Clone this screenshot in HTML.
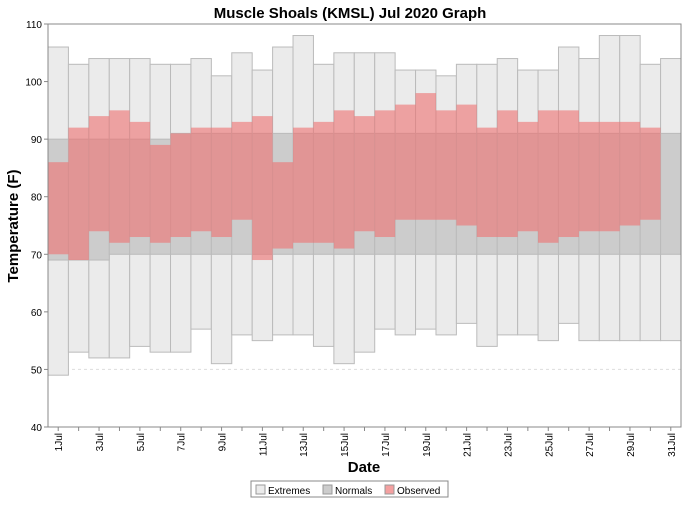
<!DOCTYPE html>
<html><head><meta charset="utf-8"><style>
body{margin:0;background:#fff;font-family:"Liberation Sans",sans-serif}
</style></head><body>
<svg id="chart" width="700" height="500" xmlns="http://www.w3.org/2000/svg" font-family="Liberation Sans, sans-serif">
<text x="350" y="18" text-anchor="middle" font-size="15" font-weight="bold">Muscle Shoals (KMSL) Jul 2020 Graph</text>
<g id="plot"></g>
<text transform="translate(18,226) rotate(-90)" text-anchor="middle" font-size="15" font-weight="bold">Temperature (F)</text>
<text x="364" y="472" text-anchor="middle" font-size="15" font-weight="bold">Date</text>
<g>
<rect x="251" y="481" width="197" height="16" fill="#fff" stroke="#888"/>
<rect x="256" y="485" width="9" height="9" fill="#ebebeb" stroke="#999"/>
<text x="268" y="494" font-size="10">Extremes</text>
<rect x="323" y="485" width="9" height="9" fill="#cccccc" stroke="#999"/>
<text x="335" y="494" font-size="10">Normals</text>
<rect x="385" y="485" width="9" height="9" fill="#f4a0a0" stroke="#999"/>
<text x="397" y="494" font-size="10">Observed</text>
</g>
</svg>
<script>
const days=[1,2,3,4,5,6,7,8,9,10,11,12,13,14,15,16,17,18,19,20,21,22,23,24,25,26,27,28,29,30,31];
const extHigh=[106,103,104,104,104,103,103,104,101,105,102,106,108,103,105,105,105,102,102,101,103,103,104,102,102,106,104,108,108,103,104];
const extLow=[49,53,52,52,54,53,53,57,51,56,55,56,56,54,51,53,57,56,57,56,58,54,56,56,55,58,55,55,55,55,55];
const normHigh=[90,90,90,90,90,90,91,91,91,91,91,91,91,91,91,91,91,91,91,91,91,91,91,91,91,91,91,91,91,91,91];
const normLow=[69,69,69,70,70,70,70,70,70,70,70,70,70,70,70,70,70,70,70,70,70,70,70,70,70,70,70,70,70,70,70];
const obsHigh=[86,92,94,95,93,89,91,92,92,93,94,86,92,93,95,94,95,96,98,95,96,92,95,93,95,95,93,93,93,92,null];
const obsLow=[70,69,74,72,73,72,73,74,73,76,69,71,72,72,71,74,73,76,76,76,75,73,73,74,72,73,74,74,75,76,null];
const yTicks=[40,50,60,70,80,90,100,110];
const X0=48,X1=681,Y0=24,Y1=427,YMIN=40,YMAX=110;
const bw=(X1-X0)/days.length;
const xs=i=>X0+i*bw;
const ys=v=>Y1-(v-YMIN)/(YMAX-YMIN)*(Y1-Y0);
const NS="http://www.w3.org/2000/svg";
const g=document.getElementById('plot');
function mk(t,a,p){const e=document.createElementNS(NS,t);for(const k in a)e.setAttribute(k,a[k]);(p||g).appendChild(e);return e;}
const bg=mk('rect',{x:X0,y:Y0,width:X1-X0,height:Y1-Y0,fill:'#fff'});


yTicks.forEach(v=>{
 const l=mk('line',{x1:X0,x2:X1,y1:ys(v),y2:ys(v),stroke:'#ddd','stroke-dasharray':'3,3'});
 
 
});
function bar(i,hi,lo,fill,extra,name){
 const r=mk('rect',Object.assign({x:xs(i),y:ys(hi),width:bw,height:ys(lo)-ys(hi),fill:fill},extra));
 
 
}
days.forEach((d,i)=>bar(i,extHigh[i],extLow[i],'#ebebeb',{stroke:'#bbb','stroke-width':1},'extremes-bar'));
days.forEach((d,i)=>bar(i,normHigh[i],normLow[i],'#cccccc',{stroke:'#bbb','stroke-width':1},'normals-bar'));
days.forEach((d,i)=>{if(obsHigh[i]!=null)bar(i,obsHigh[i],obsLow[i],'#ee7070',{'fill-opacity':0.6},'observed-bar');});
const fr=mk('rect',{x:X0,y:Y0,width:X1-X0,height:Y1-Y0,fill:'none',stroke:'#888'});


yTicks.forEach(v=>{
 mk('line',{x1:X0-4,x2:X0,y1:ys(v),y2:ys(v),stroke:'#888'});
 const t=mk('text',{x:X0-6,y:ys(v)+4,'text-anchor':'end','font-size':10});
 t.textContent=v;
 
 
});
days.forEach((d,i)=>{
 const cx=xs(i)+bw/2;
 mk('line',{x1:cx,x2:cx,y1:Y1,y2:Y1+4,stroke:'#888'});
 if(d%2===1){
  const t=mk('text',{transform:`translate(${cx+4},${Y1+6}) rotate(-90)`,'text-anchor':'end','font-size':10});
  t.textContent=d+'Jul';
  
  
 }
});
</script>
</body></html>
